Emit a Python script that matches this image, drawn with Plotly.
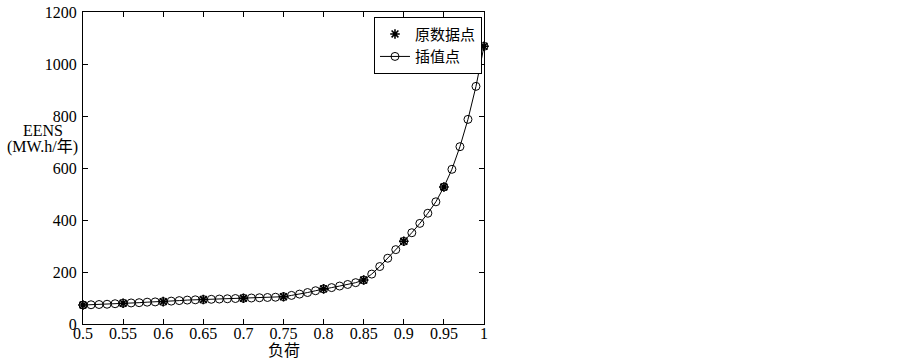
import plotly.graph_objects as go

# Interpolated points (load vs EENS)
load_interp = [0.50, 0.51, 0.52, 0.53, 0.54, 0.55, 0.56, 0.57, 0.58, 0.59,
               0.60, 0.61, 0.62, 0.63, 0.64, 0.65, 0.66, 0.67, 0.68, 0.69,
               0.70, 0.71, 0.72, 0.73, 0.74, 0.75, 0.76, 0.77, 0.78, 0.79,
               0.80, 0.81, 0.82, 0.83, 0.84, 0.85, 0.86, 0.87, 0.88, 0.89,
               0.90, 0.91, 0.92, 0.93, 0.94, 0.95, 0.96, 0.97, 0.98, 0.99, 1.00]
eens_interp = [73, 74, 75, 76, 78, 80, 81, 82, 84, 85,
               86, 88, 90, 92, 93, 94, 95, 96, 97, 98,
               99, 100, 101, 102, 103, 105, 110, 115, 121, 128,
               135, 140, 146, 152, 159, 169, 192, 221, 253, 286,
               318, 351, 387, 426, 470, 527, 595, 682, 787, 914, 1068]

# Original data points
load_orig = [0.50, 0.55, 0.60, 0.65, 0.70, 0.75, 0.80, 0.85, 0.90, 0.95, 1.00]
eens_orig = [73, 80, 86, 94, 99, 105, 135, 169, 318, 527, 1068]

x_tickvals = [0.5, 0.55, 0.6, 0.65, 0.7, 0.75, 0.8, 0.85, 0.9, 0.95, 1.0]
x_ticktext = ["0.5", "0.55", "0.6", "0.65", "0.7", "0.75", "0.8", "0.85", "0.9", "0.95", "1"]
y_tickvals = [0, 200, 400, 600, 800, 1000, 1200]

FONT = "Liberation Serif, Times New Roman, Noto Sans CJK SC, serif"

fig = go.Figure()
fig.add_trace(go.Scatter(
    x=load_orig, y=eens_orig, mode="markers", name="原数据点", cliponaxis=False,
    marker=dict(symbol="asterisk-open", size=8, color="black",
                line=dict(color="black", width=1.6)),
))
fig.add_trace(go.Scatter(
    x=load_interp, y=eens_interp, mode="lines+markers", name="插值点", cliponaxis=False,
    line=dict(color="black", width=1),
    marker=dict(symbol="circle-open", size=8, color="black",
                line=dict(color="black", width=1)),
))

axis_common = dict(
    showline=True, linecolor="black", linewidth=1, mirror="ticks",
    ticks="inside", ticklen=5, tickcolor="black", tickwidth=1,
    showgrid=False, zeroline=False, automargin=False,
    tickfont=dict(family=FONT, size=16, color="black"),
)

fig.update_xaxes(range=[0.5, 1.0], tickvals=x_tickvals, ticktext=x_ticktext,
                 ticklabelstandoff=-5, **axis_common)
fig.update_yaxes(range=[0, 1200], tickvals=y_tickvals, ticklabelstandoff=2,
                 **axis_common)

fig.add_annotation(text="负荷", xref="paper", yref="paper", x=0.5, y=0,
                   yshift=-16, yanchor="top", showarrow=False,
                   font=dict(family=FONT, size=16, color="black"))
fig.add_annotation(text="EENS", xref="paper", yref="y", x=-0.1, y=745,
                   xanchor="center", yanchor="middle", showarrow=False,
                   font=dict(family=FONT, size=16, color="black"))
fig.add_annotation(text="(MW.h/年)", xref="paper", yref="y", x=-0.1, y=680,
                   xanchor="center", yanchor="middle", showarrow=False,
                   font=dict(family=FONT, size=16, color="black"))

fig.update_layout(
    width=903, height=364,
    margin=dict(l=83, r=419, t=12, b=40, autoexpand=False),
    paper_bgcolor="white", plot_bgcolor="white",
    showlegend=True,
    legend=dict(x=0.995, y=0.985, xanchor="right", yanchor="top",
                bordercolor="black", borderwidth=1, bgcolor="white",
                font=dict(family=FONT, size=15, color="black"),
                tracegroupgap=0, itemwidth=30),
    font=dict(family=FONT, color="black"),
)

# remove the page's default 8px body margin so the figure fills the window
fig.write_html("out.html", config={"displayModeBar": False},
               post_script="document.body.style.margin='0';")
